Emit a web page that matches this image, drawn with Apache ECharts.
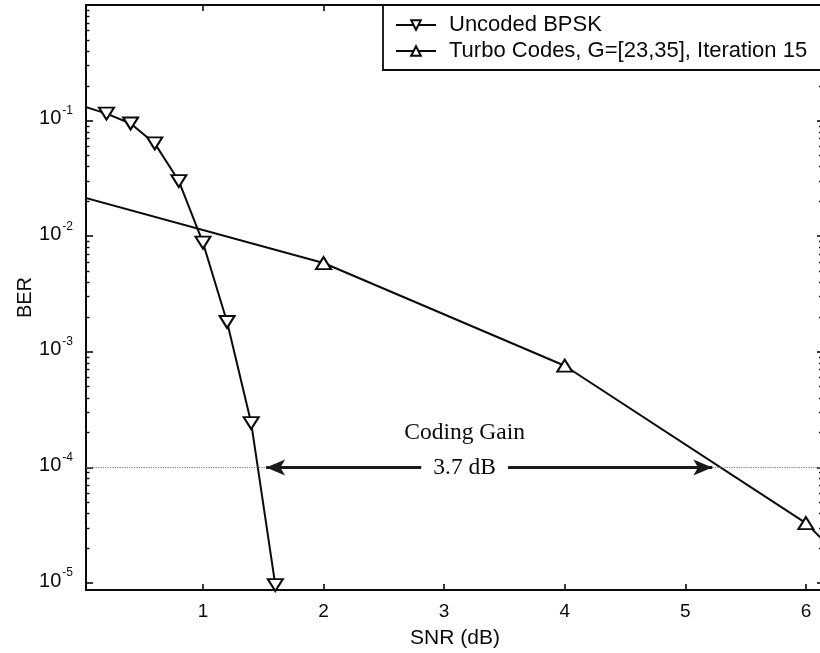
<!DOCTYPE html>
<html>
<head>
<meta charset="utf-8">
<script src="https://cdn.jsdelivr.net/npm/echarts@6/dist/echarts.min.js"></script>
<style>
  html, body { margin: 0; padding: 0; background: #fff; }
  #chart { width: 820px; height: 653px; }
</style>
</head>
<body>
<div id="chart"></div>
<script>
// BER curves: uncoded BPSK vs. turbo code (G=[23,35], 15 iterations)
const uncodedSnr = [0, 0.2, 0.4, 0.6, 0.8, 1.0, 1.2, 1.4, 1.6];
const uncodedBer = [0.134, 0.115, 0.0944, 0.0635, 0.0300, 0.00879, 0.00181, 2.42e-4, 9.6e-6];
const turboSnr = [0, 2, 4, 6, 6.5];
const turboBer = [0.0218, 0.00586, 7.58e-4, 3.30e-5, 1.0e-5];

const seriesNames = ['Uncoded BPSK', 'Turbo Codes, G=[23,35], Iteration 15'];
const xTicks = [1, 2, 3, 4, 5, 6];
const yMajorTicks = [1e-5, 1e-4, 1e-3, 1e-2, 1e-1, 1];
const yLabelTicks = [1e-5, 1e-4, 1e-3, 1e-2, 1e-1];
const xRange = [0.03, 6.15];
const yRange = [8.7e-6, 1];

// coding-gain annotation
const targetBer = 1e-4;
const codingGain = 3.7;
const gainTitle = 'Coding Gain';
const gainTitleBer = 2e-4;
const gainLabelSnr = 3.17;
const gainLabelHalfGap = 0.36;

// minor log ticks 2..9 in each decade
const yMinorTicks = [];
for (let d = -5; d < 0; d++) {
  for (let k = 2; k <= 9; k++) yMinorTicks.push(k * Math.pow(10, d));
}

const pairs = (xs, ys) => xs.map((x, i) => [x, ys[i]]);

// SNR where a curve crosses a given BER (interpolated in log-BER)
function crossing(xs, ys, level) {
  const t = Math.log10(level);
  for (let i = 0; i < xs.length - 1; i++) {
    const a = Math.log10(ys[i]), b = Math.log10(ys[i + 1]);
    if ((a - t) * (b - t) <= 0 && a !== b) {
      return xs[i] + (xs[i + 1] - xs[i]) * (a - t) / (a - b);
    }
  }
  return null;
}
const uncodedCross = crossing(uncodedSnr, uncodedBer, targetBer);
const turboCross = crossing(turboSnr, turboBer, targetBer);
const gainMid = (uncodedCross + turboCross) / 2;
const gainStart = gainMid - codingGain / 2;
const gainEnd = gainMid + codingGain / 2;

const sansFont = '"Liberation Sans", Arial, sans-serif';
const serifFont = '"Liberation Serif", "Times New Roman", serif';
const ink = '#0a0a0a';

const dottedStyle = { type: 'dotted', color: '#777', width: 1.2 };
const arrowStyle = { type: 'solid', color: '#1a1a1a', width: 3.2 };

const chart = echarts.init(document.getElementById('chart'), null, { renderer: 'canvas' });

const tickLine = { color: ink, width: 1.6 };

chart.setOption({
  animation: false,
  backgroundColor: '#fff',
  grid: {
    left: 86, top: 5, width: 738, bottom: 63,
    show: true, borderColor: ink, borderWidth: 2, backgroundColor: '#fff',
    containLabel: false, outerBoundsMode: 'none'
  },
  legend: {
    data: seriesNames,
    orient: 'vertical',
    left: 383, top: 5,
    padding: [9, 30, 8, 12],
    itemWidth: 40, itemHeight: 12, itemGap: 4,
    backgroundColor: '#fff',
    borderColor: ink, borderWidth: 1.8, borderRadius: 0,
    selectedMode: false,
    textStyle: { fontFamily: sansFont, fontSize: 22, lineHeight: 22, color: ink, padding: [0, 0, 0, 8] }
  },
  xAxis: [
    {
      type: 'value', position: 'bottom', min: xRange[0], max: xRange[1],
      axisLine: { show: false }, splitLine: { show: false },
      axisTick: { show: true, inside: true, length: 6, customValues: xTicks, lineStyle: tickLine },
      axisLabel: { show: true, customValues: xTicks, margin: 12, fontFamily: sansFont, fontSize: 19, color: ink },
      name: 'SNR (dB)', nameLocation: 'middle', nameGap: 38, nameMoveOverlap: false,
      nameTextStyle: { fontFamily: sansFont, fontSize: 21, color: ink }
    },
    {
      type: 'value', position: 'top', min: xRange[0], max: xRange[1],
      axisLine: { show: false }, splitLine: { show: false },
      axisTick: { show: true, inside: true, length: 6, customValues: xTicks, lineStyle: tickLine },
      axisLabel: { show: false }
    }
  ],
  yAxis: [
    {
      type: 'log', logBase: 10, position: 'left', min: yRange[0], max: yRange[1],
      axisLine: { show: false }, splitLine: { show: false },
      axisTick: { show: true, inside: true, length: 7, customValues: yMajorTicks, lineStyle: tickLine },
      axisLabel: {
        show: true, customValues: yLabelTicks, margin: 13,
        formatter: v => '{b|10}{e|' + Math.round(Math.log10(v)) + '}',
        rich: {
          b: { fontFamily: sansFont, fontSize: 20, color: ink, padding: [0, 0, 4, 0] },
          e: { fontFamily: sansFont, fontSize: 12, lineHeight: 12, color: ink, padding: [0, 0, 20, 1] }
        }
      },
      name: 'BER', nameLocation: 'middle', nameGap: 51, nameMoveOverlap: false,
      nameTextStyle: { fontFamily: sansFont, fontSize: 20, color: ink }
    },
    {
      type: 'log', logBase: 10, position: 'left', min: yRange[0], max: yRange[1],
      axisLine: { show: false }, splitLine: { show: false },
      axisTick: { show: true, inside: true, length: 3.5, customValues: yMinorTicks, lineStyle: { color: ink, width: 1.4 } },
      axisLabel: { show: false }
    },
    {
      type: 'log', logBase: 10, position: 'right', min: yRange[0], max: yRange[1],
      axisLine: { show: false }, splitLine: { show: false },
      axisTick: { show: true, inside: true, length: 7, customValues: yMajorTicks, lineStyle: tickLine },
      axisLabel: { show: false }
    },
    {
      type: 'log', logBase: 10, position: 'right', min: yRange[0], max: yRange[1],
      axisLine: { show: false }, splitLine: { show: false },
      axisTick: { show: true, inside: true, length: 5, customValues: yMinorTicks, lineStyle: { color: ink, width: 1.4 } },
      axisLabel: { show: false }
    }
  ],
  series: [
    {
      name: seriesNames[0], type: 'line', xAxisIndex: 0, yAxisIndex: 0,
      data: pairs(uncodedSnr, uncodedBer), clip: true,
      symbol: 'triangle', symbolRotate: 180, symbolSize: [15, 12], showAllSymbol: true,
      lineStyle: { color: ink, width: 2 },
      itemStyle: { color: '#fff', borderColor: ink, borderWidth: 2 },
      emphasis: { disabled: true }, z: 4
    },
    {
      name: seriesNames[1], type: 'line', xAxisIndex: 0, yAxisIndex: 0,
      data: pairs(turboSnr, turboBer), clip: true,
      symbol: 'triangle', symbolSize: [15, 12], showAllSymbol: true,
      lineStyle: { color: ink, width: 2 },
      itemStyle: { color: '#fff', borderColor: ink, borderWidth: 2 },
      emphasis: { disabled: true }, z: 4
    },
    {
      name: 'gain', type: 'line', xAxisIndex: 0, yAxisIndex: 0, data: [],
      silent: true, z: 3,
      markLine: {
        silent: true, animation: false, symbol: 'none', label: { show: false },
        emphasis: { disabled: true },
        data: [
          [{ coord: [xRange[0], targetBer], lineStyle: dottedStyle }, { coord: [gainStart, targetBer] }],
          [{ coord: [gainEnd, targetBer], lineStyle: dottedStyle }, { coord: [xRange[1], targetBer] }],
          [{ coord: [gainLabelSnr - gainLabelHalfGap, targetBer], symbol: 'none', lineStyle: arrowStyle },
           { coord: [gainStart, targetBer], symbol: 'arrow', symbolSize: [12, 19] }],
          [{ coord: [gainLabelSnr + gainLabelHalfGap, targetBer], symbol: 'none', lineStyle: arrowStyle },
           { coord: [gainEnd, targetBer], symbol: 'arrow', symbolSize: [12, 19] }]
        ]
      },
      markPoint: {
        silent: true, animation: false, symbol: 'circle', symbolSize: 1,
        itemStyle: { color: 'rgba(0,0,0,0)' },
        label: { show: true, position: 'inside', formatter: '{b}', fontFamily: serifFont, fontSize: 23.5, color: ink },
        data: [
          { name: codingGain + ' dB', coord: [gainLabelSnr, targetBer] },
          { name: gainTitle, coord: [gainLabelSnr, gainTitleBer] }
        ]
      }
    }
  ]
});
</script>
</body>
</html>
